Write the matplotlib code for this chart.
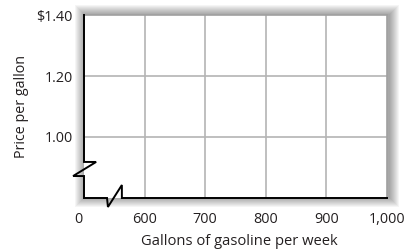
import matplotlib
matplotlib.use("Agg")
from matplotlib import pyplot as plt
from matplotlib.patches import Rectangle

x_ticks = [600, 700, 800, 900, 1000]
x_labels = ["600", "700", "800", "900", "1,000"]
y_ticks = [1.00, 1.20, 1.40]
y_labels = ["1.00", "1.20", "$1.40"]
origin_label = "0"

plt.rcParams['font.family'] = ['Open Sans', 'DejaVu Sans']
plt.rcParams['font.size'] = 10.4
text_color = '#231f20'

W, H = 407, 252
fig = plt.figure(figsize=(W / 100, H / 100), dpi=100)
left, right, top, bottom = 84, 387, 15, 198
ax = fig.add_axes([left / W, (H - bottom) / H, (right - left) / W, (bottom - top) / H])

# soft drop shadow around the plot box
for i in range(10, 0, -1):
    r = Rectangle(((left - i + 1) / W, (H - bottom - i + 1) / H),
                  (right - left + 2 * i + 1) / W, (bottom - top + 2 * i - 1) / H,
                  transform=fig.transFigure, facecolor='black', alpha=0.04,
                  edgecolor='none', zorder=0)
    fig.add_artist(r)

ax.set_facecolor('white')
ax.set_xlim(500, 1000)
ax.set_ylim(0.80, 1.40)

ax.set_xticks(x_ticks)
ax.set_xticklabels(x_labels)
ax.set_yticks(y_ticks)
ax.set_yticklabels(y_labels)
ax.tick_params(length=0, colors=text_color)
ax.tick_params(axis='x', pad=10)
ax.tick_params(axis='y', pad=8)

# "0" label for the broken axis
ax.annotate(origin_label, xy=(-0.02, 0), xycoords='axes fraction',
            xytext=(0, -10), textcoords='offset points',
            ha='center', va='top', color=text_color, fontsize=10.4)

for v in x_ticks[:-1]:
    ax.axvline(v, color='#b4b4b4', lw=1.2, zorder=1)
for v in y_ticks[:-1]:
    ax.axhline(v, color='#b4b4b4', lw=1.2, zorder=1)

for s in ['left', 'bottom']:
    ax.spines[s].set_visible(False)
for s in ['top', 'right']:
    ax.spines[s].set_color('#a0a0a0')
    ax.spines[s].set_linewidth(1.2)

# axes with break marks
bx = [0, 0, 0.040, -0.036, 0, 0, 0.076, 0.079, 0.125, 0.125, 1]
by = [1, 0.197, 0.197, 0.120, 0.120, 0, 0, -0.049, 0.071, 0, 0]
ax.plot(bx, by, color='black', lw=1.4, transform=ax.transAxes,
        clip_on=False, solid_joinstyle='miter', zorder=5)

ax.set_xlabel("Gallons of gasoline per week", fontsize=10.6, color=text_color)
ax.xaxis.set_label_coords(0.512, -0.197)
ax.set_ylabel("Price per gallon", fontsize=10.3, color=text_color)
ax.yaxis.set_label_coords(-0.182, 0.5)

fig.savefig("out.png", dpi=100)
